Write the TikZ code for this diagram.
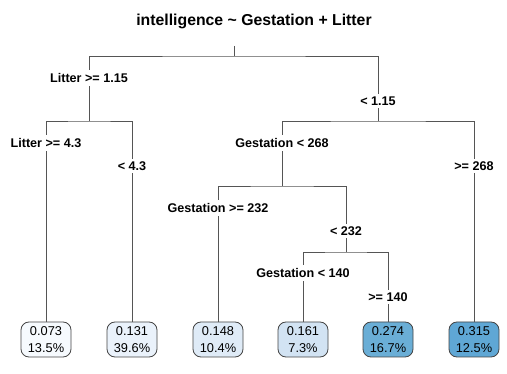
\documentclass[tikz,border=0pt]{standalone}
\usepackage{fontspec}
\setmainfont{Liberation Sans}
\definecolor{edgegray}{HTML}{555555}
\definecolor{boxgray}{HTML}{444444}
\definecolor{lf1}{HTML}{F6FAFE}
\definecolor{lf2}{HTML}{EAF2FB}
\definecolor{lf3}{HTML}{DFEBF7}
\definecolor{lf4}{HTML}{D2E3F3}
\definecolor{lf5}{HTML}{6AAED6}
\definecolor{lf6}{HTML}{5FA7D5}
\begin{document}
\begin{tikzpicture}[x=1pt,y=-1pt,
  edge/.style={draw=edgegray, line width=0.9pt},
  splitlabel/.style={fill=white, font=\fontsize{12.6}{14}\selectfont\bfseries, inner xsep=1pt, inner ysep=3pt},
  leafbox/.style={draw=boxgray, line width=0.8pt, rounded corners=8pt, minimum width=50pt, minimum height=35pt, inner sep=0pt, align=center, font=\fontsize{12.8}{16.4}\selectfont},
  titletext/.style={font=\fontsize{15.8}{18}\selectfont\bfseries}
]
\useasboundingbox (0,0) rectangle (507,374);

\node[titletext] (title) at (254,21) {intelligence \textasciitilde{} Gestation + Litter};

% junction coordinates
\coordinate (rtop) at (234,46);
\coordinate (rj) at (234,56);
\coordinate (A) at (89,121);
\coordinate (B) at (378,121);
\coordinate (C) at (282,186);
\coordinate (D) at (346,252);

% leaves
\node[leafbox, fill=lf1] (l1) at (46,339.5) {0.073\\13.5\%};
\node[leafbox, fill=lf2] (l2) at (132,339.5) {0.131\\39.6\%};
\node[leafbox, fill=lf3] (l3) at (218,339.5) {0.148\\10.4\%};
\node[leafbox, fill=lf4] (l4) at (303,339.5) {0.161\\7.3\%};
\node[leafbox, fill=lf5] (l5) at (388,339.5) {0.274\\16.7\%};
\node[leafbox, fill=lf6] (l6) at (474,339.5) {0.315\\12.5\%};

% edges
\draw[edge] (rtop) -- (rj);
\draw[edge] (A) |- (rj) -| (B);
\draw[edge] (l1.north) |- (A) -| (l2.north);
\draw[edge] (C) |- (B) -| (l6.north);
\draw[edge] (l3.north) |- (C) -| (D);
\draw[edge] (l4.north) |- (D) -| (l5.north);

% split labels
\node[splitlabel] (s1) at (89,78) {Litter >= 1.15};
\node[splitlabel] (s2) at (378,101) {< 1.15};
\node[splitlabel] (s3) at (46,143) {Litter >= 4.3};
\node[splitlabel] (s4) at (132,166) {< 4.3};
\node[splitlabel] (s5) at (282,143) {Gestation < 268};
\node[splitlabel] (s6) at (474,166) {>= 268};
\node[splitlabel] (s7) at (218,208) {Gestation >= 232};
\node[splitlabel] (s8) at (346,231) {< 232};
\node[splitlabel] (s9) at (303,273) {Gestation < 140};
\node[splitlabel] (s10) at (388,297) {>= 140};
\end{tikzpicture}
\end{document}
